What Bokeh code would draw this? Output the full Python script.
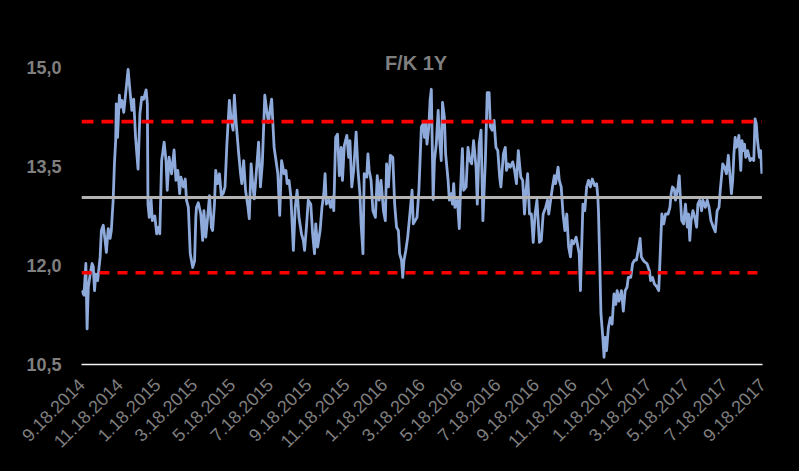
import math
import pandas as pd
from bokeh.plotting import figure
from bokeh.models import Range1d, FixedTicker, Label
from bokeh.embed import file_html
from bokeh.resources import INLINE

# ---------------- data ----------------
start_date = "2014-09-18"

days_since_start = [
    0, 4, 7, 9, 11, 14, 17, 19, 21, 23, 26, 30, 32, 35, 38, 40, 43, 46, 48, 51,
    53, 55, 56, 58, 61, 63, 65, 68, 71, 75, 78, 81, 84, 87, 91, 94, 97, 100, 104, 106,
    107, 109, 112, 114, 118, 121, 124, 126, 129, 133, 136, 138, 141, 145, 149, 152, 155, 158, 160, 164,
    167, 169, 172, 175, 179, 182, 184,
    185, 188, 192, 195, 197, 200, 203, 206, 209, 211, 214, 216, 219, 222, 225, 228, 231, 234, 238, 241,
    244, 246, 249, 253, 256, 258, 261, 264, 268, 270, 273, 275, 278, 282, 285, 288, 291, 295, 298, 301,
    304, 306, 310, 313, 316, 319, 322, 326, 329, 331, 334, 337, 341, 344, 347, 350, 354, 357, 359, 362,
    365, 369,
    372, 375, 377, 380, 384, 387, 390, 392, 394, 398, 401, 404, 406, 409, 412, 415, 418, 420, 423, 427,
    430, 432, 435, 438, 442, 445, 448, 450, 453, 455, 459, 461, 463, 466, 469, 473, 476, 479, 482, 486,
    489, 491, 494, 497, 501, 504, 507, 510, 512, 515, 517, 519, 522, 525, 528, 532, 534, 537, 540, 543,
    547, 550, 552, 554, 556, 559, 561, 563,
    564, 566, 568, 571, 574, 576, 579, 581, 584, 586, 590, 592, 595, 597, 599, 601, 605, 608, 610, 613,
    615, 619, 622, 625, 628, 631, 635, 637, 640, 643, 646, 650, 653, 656, 658, 661, 664, 667, 670, 673,
    675, 679, 682, 684, 687, 690, 694, 697, 700, 703, 707, 710, 713, 715, 718, 721, 724, 727, 730, 733,
    737, 740, 743, 747, 750,
    752, 755, 758, 761, 763, 767, 769, 772, 775, 778, 781, 784, 787, 789, 792, 796, 799, 801, 803, 805,
    807, 810, 813, 816, 819, 822, 826, 829, 831, 832, 834, 836, 839, 841, 843, 845, 848, 851, 854, 857,
    860, 862, 865, 869, 872, 875, 878, 880, 884, 887, 890, 893, 896, 899, 901, 904, 907, 910, 914, 916,
    919, 922, 925, 929, 931,
    934, 937, 940, 944, 947, 949, 951, 954, 956, 960, 962, 964, 966, 969, 972, 975, 977, 979, 981, 984,
    987, 990, 992, 995, 998, 1000, 1004, 1007, 1010, 1013, 1017, 1020, 1023, 1026, 1028, 1032, 1035, 1038, 1041, 1043,
    1046, 1048, 1050, 1052, 1054, 1056, 1058, 1061, 1063, 1065, 1067, 1069, 1072, 1076, 1079, 1082, 1084, 1086, 1088, 1091,
    1093, 1095,
]

fk_1y = [
    11.62, 11.55, 12.03, 11.04, 11.67, 11.87, 12.03, 11.98, 11.62, 11.87, 11.77, 12.13, 12.53, 12.61, 12.38, 12.20, 12.56, 12.41, 12.53, 13.00,
    13.54, 13.89, 14.45, 13.94, 14.58, 14.40, 14.50, 14.32, 14.60, 14.97, 14.65, 14.35, 14.52, 13.94, 13.46, 14.30, 14.55, 14.52, 14.66, 14.45,
    12.93, 12.73, 13.00, 12.68, 12.75, 12.48, 12.58, 12.48, 13.59, 13.87, 13.59, 13.14, 13.64, 13.39, 13.75, 13.29, 13.44, 13.09, 13.34, 13.19,
    13.31, 12.99, 12.88, 12.18, 11.97, 12.07, 12.73,
    12.88, 12.95, 12.78, 12.38, 12.83, 12.43, 12.73, 13.06, 12.58, 12.53, 12.93, 13.44, 13.24, 13.39, 13.06, 13.09, 13.19, 13.84, 14.50, 14.20,
    14.05, 14.58, 14.15, 13.69, 13.39, 13.24, 13.59, 13.14, 12.88, 12.71, 13.54, 13.29, 13.01, 13.49, 13.87, 13.19, 13.54, 14.58, 14.35, 14.17,
    14.40, 14.52, 13.79, 13.59, 13.39, 12.76, 13.59, 13.39, 13.44, 13.24, 13.29, 13.04, 12.23, 12.88, 13.14, 12.73, 12.48, 12.38, 12.23, 12.58,
    12.99, 12.93,
    12.48, 12.18, 12.63, 12.28, 12.53, 12.88, 13.09, 13.39, 12.93, 12.99, 12.88, 13.04, 12.83, 13.94, 13.99, 13.36, 13.79, 13.29, 13.82, 13.97,
    13.64, 13.89, 13.19, 13.44, 14.02, 13.44, 13.09, 12.63, 12.18, 13.39, 13.34, 13.69, 13.44, 13.29, 12.83, 12.73, 13.36, 12.99, 13.29, 12.83,
    12.68, 13.54, 13.19, 13.67, 13.64, 12.93, 12.58, 12.53, 12.18, 12.08, 11.82, 12.08, 12.23, 12.43, 12.73, 13.14, 12.63, 12.68, 12.73, 13.14,
    14.10, 14.15, 13.94, 14.17, 13.84, 14.10, 14.50, 14.67,
    14.10, 13.00, 13.59, 13.84, 14.35, 13.94, 13.59, 14.47, 14.25, 13.69, 13.29, 12.99, 13.09, 12.93, 13.24, 12.88, 12.99, 12.56, 13.14, 13.77,
    13.14, 13.19, 13.79, 13.59, 13.54, 13.89, 13.49, 12.93, 13.84, 14.05, 12.68, 13.59, 14.62, 14.62, 14.10, 14.05, 14.20, 13.79, 13.74, 13.34,
    13.19, 13.69, 13.79, 13.44, 13.54, 13.49, 13.57, 13.44, 13.24, 13.74, 13.34, 13.29, 12.78, 13.09, 13.39, 12.78, 12.78, 12.35, 12.78, 12.99,
    12.35, 12.38, 12.78, 12.88, 12.99,
    12.78, 12.99, 13.19, 13.36, 13.24, 13.49, 13.29, 13.19, 12.78, 12.53, 12.78, 12.28, 12.13, 12.38, 12.33, 12.43, 12.28, 12.18, 11.62, 12.28,
    12.93, 12.83, 13.19, 13.29, 13.19, 13.31, 13.21, 13.24, 13.04, 12.83, 12.08, 11.27, 10.91, 10.61, 10.91, 10.71, 11.06, 11.21, 11.11, 11.57,
    11.41, 11.62, 11.46, 11.62, 11.31, 11.62, 11.67, 11.82, 11.82, 12.03, 12.08, 12.08, 12.23, 12.41, 12.13, 12.08, 12.05, 12.03, 11.92, 11.77,
    11.82, 11.72, 11.69, 11.62, 12.08,
    12.78, 12.63, 12.78, 12.78, 12.88, 13.09, 13.19, 13.16, 12.99, 13.19, 13.36, 12.99, 12.68, 12.63, 12.93, 12.58, 12.78, 12.38, 12.68, 12.83,
    12.73, 12.58, 12.93, 12.99, 12.83, 12.99, 12.88, 12.99, 12.88, 12.68, 12.58, 12.51, 12.83, 12.88, 13.14, 13.54, 13.49, 13.39, 13.67, 13.44,
    13.09, 13.29, 13.69, 13.94, 13.79, 13.84, 13.97, 13.44, 13.89, 13.74, 13.84, 13.64, 13.74, 13.59, 13.62, 13.59, 14.22, 14.15, 13.89, 13.64,
    13.74, 13.39,
]

mean_level = 13.03
upper_band = 14.18
lower_band = 11.89

tick_dates = [
    "2014-09-18", "2014-11-18", "2015-01-18", "2015-03-18", "2015-05-18", "2015-07-18",
    "2015-09-18", "2015-11-18", "2016-01-18", "2016-03-18", "2016-05-18", "2016-07-18",
    "2016-09-18", "2016-11-18", "2017-01-18", "2017-03-18", "2017-05-18", "2017-07-18",
    "2017-09-18",
]
y_ticks = [10.5, 12.0, 13.5, 15.0]
y_tick_labels = ["10,5", "12,0", "13,5", "15,0"]
title_text = "F/K 1Y"

# ---------------- build ----------------
dates = pd.Timestamp(start_date) + pd.to_timedelta(days_since_start, unit="D")
tick_ts = [pd.Timestamp(d) for d in tick_dates]
tick_ms = [t.value / 1e6 for t in tick_ts]
tick_labels = [f"{t.month}.{t.day}.{t.year}" for t in tick_ts]

FONT = "Liberation Sans"
GREY_TXT = "#7f7f7f"

# plot frame: 10.5 sits 107 px above the bottom, 15.0 sits 67 px below the top,
# the frame itself reaches 27 px higher so the title is not clipped.
frame_top_px = 40
px_per_unit = 297 / (y_ticks[-1] - y_ticks[0])
y_top = y_ticks[-1] + (67 - frame_top_px) / px_per_unit

p = figure(
    width=799, height=471,
    x_axis_type="datetime",
    x_range=Range1d(tick_ts[0], tick_ts[-1]),
    y_range=Range1d(y_ticks[0], y_top),
    output_backend="svg", toolbar_location=None,
    min_border_left=81, min_border_right=37, min_border_top=frame_top_px, min_border_bottom=107,
    background_fill_color="black", border_fill_color="black",
)
# a black outline hides the anti-aliased seam between frame and border fills
p.outline_line_color = "black"
p.outline_line_width = 2
p.xgrid.grid_line_color = None
p.ygrid.grid_line_color = None

p.line(dates, fk_1y, line_color="#8eaadb", line_width=2.8, line_join="round")

x_span = [dates[0], dates[-1]]
p.line(x_span, [mean_level, mean_level], line_color="#b3b3b3", line_width=3)
p.line(x_span, [upper_band, upper_band], line_color="#ff0000", line_width=3.8,
       line_dash="12 8")
p.line(x_span, [lower_band, lower_band], line_color="#ff0000", line_width=3.5,
       line_dash="10 8")

# y axis
yax = p.yaxis[0]
yax.ticker = FixedTicker(ticks=y_ticks, minor_ticks=[])
yax.major_label_overrides = {t: l for t, l in zip(y_ticks, y_tick_labels)}
yax.axis_line_color = None
yax.major_tick_line_color = None
yax.minor_tick_line_color = None
yax.major_label_standoff = 14
yax.major_label_text_font = FONT
yax.major_label_text_font_size = "18px"
yax.major_label_text_font_style = "bold"
yax.major_label_text_color = GREY_TXT

# x axis
xax = p.xaxis[0]
xax.ticker = FixedTicker(ticks=tick_ms, minor_ticks=[])
xax.major_label_overrides = {t: l for t, l in zip(tick_ms, tick_labels)}
xax.major_label_orientation = math.pi / 4
xax.axis_line_color = "#f2f2f2"
xax.axis_line_width = 1.5
xax.major_tick_line_color = None
xax.minor_tick_line_color = None
xax.major_label_standoff = 11
xax.major_label_text_font = FONT
xax.major_label_text_font_size = "18px"
xax.major_label_text_color = GREY_TXT

# title
mid_ms = (tick_ms[0] + tick_ms[-1]) / 2
p.add_layout(Label(
    x=mid_ms, y=y_ticks[-1], text=title_text,
    text_align="center", text_baseline="middle",
    x_offset=-6, y_offset=5,
    text_font=FONT, text_font_size="20px", text_font_style="bold",
    text_color=GREY_TXT,
))

html = file_html(p, INLINE)
html = html.replace("<head>", "<head><style>html,body{background:#000;margin:0;}</style>", 1)
open("out.html", "w").write(html)
